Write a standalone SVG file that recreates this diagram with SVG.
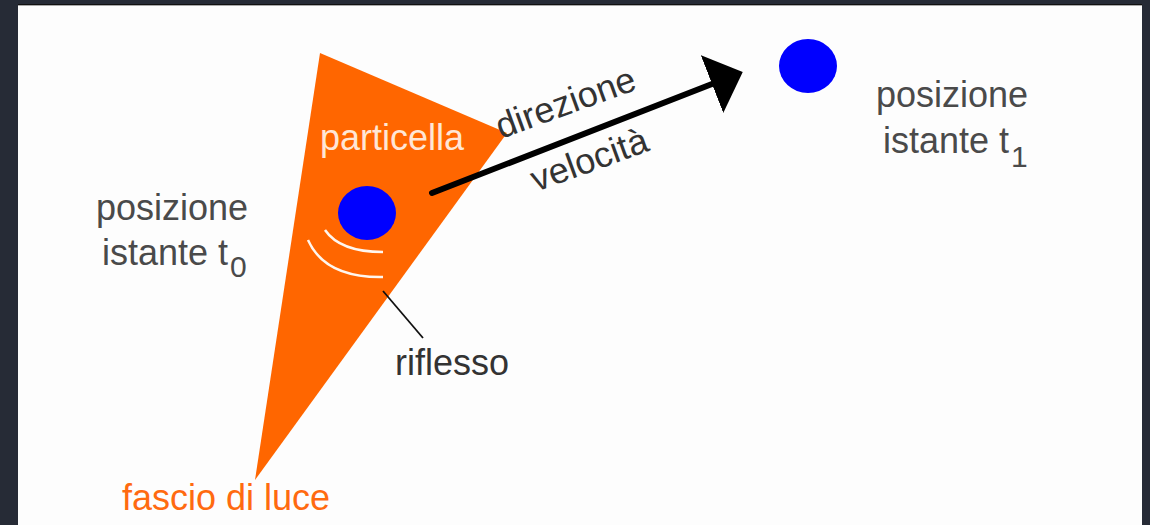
<svg xmlns="http://www.w3.org/2000/svg" width="1150" height="525" viewBox="0 0 1150 525">
  <style>
    .lbl { font-family: "Liberation Sans", Arial, sans-serif; font-size: 36px; fill: #4a4a4a; }
    .sub { font-size: 30px; }
    .dot { fill: #0000ff; }
    .beam { fill: #ff6600; }
  </style>
  <defs>
    <marker id="head" markerUnits="userSpaceOnUse" markerWidth="40" markerHeight="70" refX="0" refY="31" orient="auto" viewBox="0 0 40 70">
      <polygon points="0,0 33,31 0,62" fill="#000"/>
    </marker>
  </defs>
  <rect x="0" y="0" width="1150" height="525" fill="#262b36"/>
  <rect x="18" y="4" width="1124" height="521" fill="#fdfdfd"/>
  <line x1="18" y1="4.5" x2="1142" y2="4.5" stroke="#111" stroke-width="1"/>
  <line x1="18" y1="5.5" x2="1142" y2="5.5" stroke="#aaa" stroke-width="1"/>

  <g id="beam">
    <polygon class="beam" points="320,53 507,133 255,480"/>
    <text class="lbl" x="122" y="510" style="fill:#ff6a10">fascio di luce</text>
  </g>

  <g id="particle-t0">
    <ellipse class="dot" cx="367" cy="213" rx="29" ry="27"/>
    <text class="lbl" x="320" y="150" style="fill:#ffe6d6">particella</text>
    <path d="M325,230 Q340,252 383,252" fill="none" stroke="#fff6ee" stroke-width="2.5"/>
    <path d="M308,240 Q325,278 383,277" fill="none" stroke="#fff6ee" stroke-width="2.5"/>
  </g>

  <g id="label-t0">
    <text class="lbl" x="96" y="220">posizione</text>
    <text class="lbl" x="102" y="265">istante t<tspan class="sub" dx="2" dy="12">0</tspan></text>
  </g>

  <g id="particle-t1">
    <ellipse class="dot" cx="808" cy="66" rx="29" ry="27"/>
  </g>

  <g id="label-t1">
    <text class="lbl" x="876" y="107">posizione</text>
    <text class="lbl" x="883" y="153">istante t<tspan class="sub" dx="2" dy="14">1</tspan></text>
  </g>

  <g id="riflesso">
    <text class="lbl" x="395" y="375" style="fill:#333">riflesso</text>
  </g>

  <g id="connectors">
    <line x1="432" y1="193" x2="712" y2="84" stroke="#000" stroke-width="6" stroke-linecap="round" marker-end="url(#head)"/>
    <line x1="383" y1="291" x2="423" y2="338" stroke="#111" stroke-width="1.8"/>
    <text class="lbl" x="501" y="139" transform="rotate(-20 501 139)" style="fill:#333">direzione</text>
    <text class="lbl" x="536" y="192" transform="rotate(-20 536 192)" style="fill:#333">velocità</text>
  </g>
</svg>
